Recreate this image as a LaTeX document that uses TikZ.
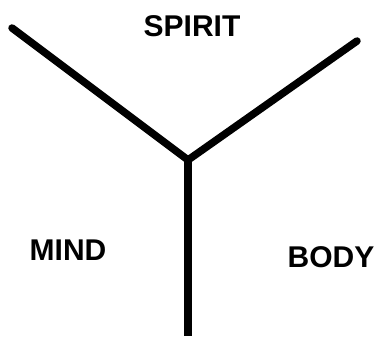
\documentclass[tikz,border=0pt]{standalone}
\usepackage{fontspec}
\setmainfont{Liberation Sans}
\usepackage{tikz}
\usetikzlibrary{positioning}
\tikzset{
  branch/.style={line width=7.5pt, line cap=round, line join=round},
  word/.style={font=\fontsize{30}{34}\selectfont\bfseries, inner sep=0pt}
}

\begin{document}
\begin{tikzpicture}[x=1pt, y=-1pt]
  \useasboundingbox (0,0) rectangle (379,339);
  \coordinate (hub) at (188,160);
  \coordinate (lefttip) at (12,28);
  \coordinate (righttip) at (357,41);
  \coordinate (foot) at (188,336);
  \draw[branch] (lefttip) -- (hub) -- (righttip);
  \draw[branch, line cap=butt] (hub) -- (foot);
  \node[word] (spirit) at (192,26) {SPIRIT};
  \node[word] (mind) at (68,250) {MIND};
  \node[word] (body) at (331,257) {BODY};
\end{tikzpicture}
\end{document}
